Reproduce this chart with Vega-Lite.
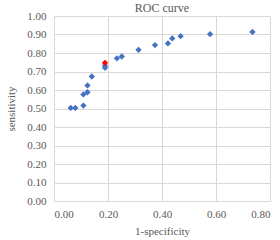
{
  "$schema": "https://vega.github.io/schema/vega-lite/v6.json",
  "autosize": "none",
  "width": 216,
  "height": 185,
  "padding": {"left": 54, "top": 16, "right": 10, "bottom": 39},
  "background": "white",
  "title": {"text": "ROC curve", "font": "Liberation Serif", "fontSize": 12, "fontWeight": "normal", "color": "#595959", "offset": -5},
  "config": {
    "view": {"stroke": null},
    "axis": {"labelFont": "Liberation Serif", "titleFont": "Liberation Serif", "labelFontSize": 11, "titleFontSize": 11, "labelColor": "#595959", "titleColor": "#595959", "titleFontWeight": "normal", "gridColor": "#d9d9d9", "domainColor": "#d9d9d9", "ticks": false}
  },
  "data": {"values": [
    {"x": 0.062, "y": 0.503, "g": "a"},
    {"x": 0.079, "y": 0.503, "g": "a"},
    {"x": 0.109, "y": 0.516, "g": "a"},
    {"x": 0.109, "y": 0.576, "g": "a"},
    {"x": 0.124, "y": 0.588, "g": "a"},
    {"x": 0.124, "y": 0.625, "g": "a"},
    {"x": 0.140, "y": 0.673, "g": "a"},
    {"x": 0.189, "y": 0.720, "g": "a"},
    {"x": 0.189, "y": 0.731, "g": "a"},
    {"x": 0.233, "y": 0.771, "g": "a"},
    {"x": 0.251, "y": 0.781, "g": "a"},
    {"x": 0.313, "y": 0.817, "g": "a"},
    {"x": 0.374, "y": 0.843, "g": "a"},
    {"x": 0.422, "y": 0.852, "g": "a"},
    {"x": 0.438, "y": 0.879, "g": "a"},
    {"x": 0.469, "y": 0.891, "g": "a"},
    {"x": 0.578, "y": 0.902, "g": "a"},
    {"x": 0.735, "y": 0.914, "g": "a"},
    {"x": 0.189, "y": 0.747, "g": "b"}
  ]},
  "mark": {"type": "point", "shape": "diamond", "filled": true, "size": 40, "opacity": 1},
  "encoding": {
    "x": {"field": "x", "type": "quantitative", "scale": {"domain": [0, 0.8], "nice": false}, "axis": {"title": "1-specificity", "format": ".2f", "values": [0, 0.2, 0.4, 0.6, 0.8], "labelPadding": 7, "titlePadding": 6}},
    "y": {"field": "y", "type": "quantitative", "scale": {"domain": [0, 1], "nice": false}, "axis": {"title": "sensitivity", "format": ".2f", "values": [0, 0.1, 0.2, 0.3, 0.4, 0.5, 0.6, 0.7, 0.8, 0.9, 1.0], "labelPadding": 8, "titlePadding": 10}},
    "color": {"field": "g", "type": "nominal", "scale": {"domain": ["a", "b"], "range": ["#4472C4", "#FF0000"]}, "legend": null},
    "order": {"field": "g"}
  }
}
